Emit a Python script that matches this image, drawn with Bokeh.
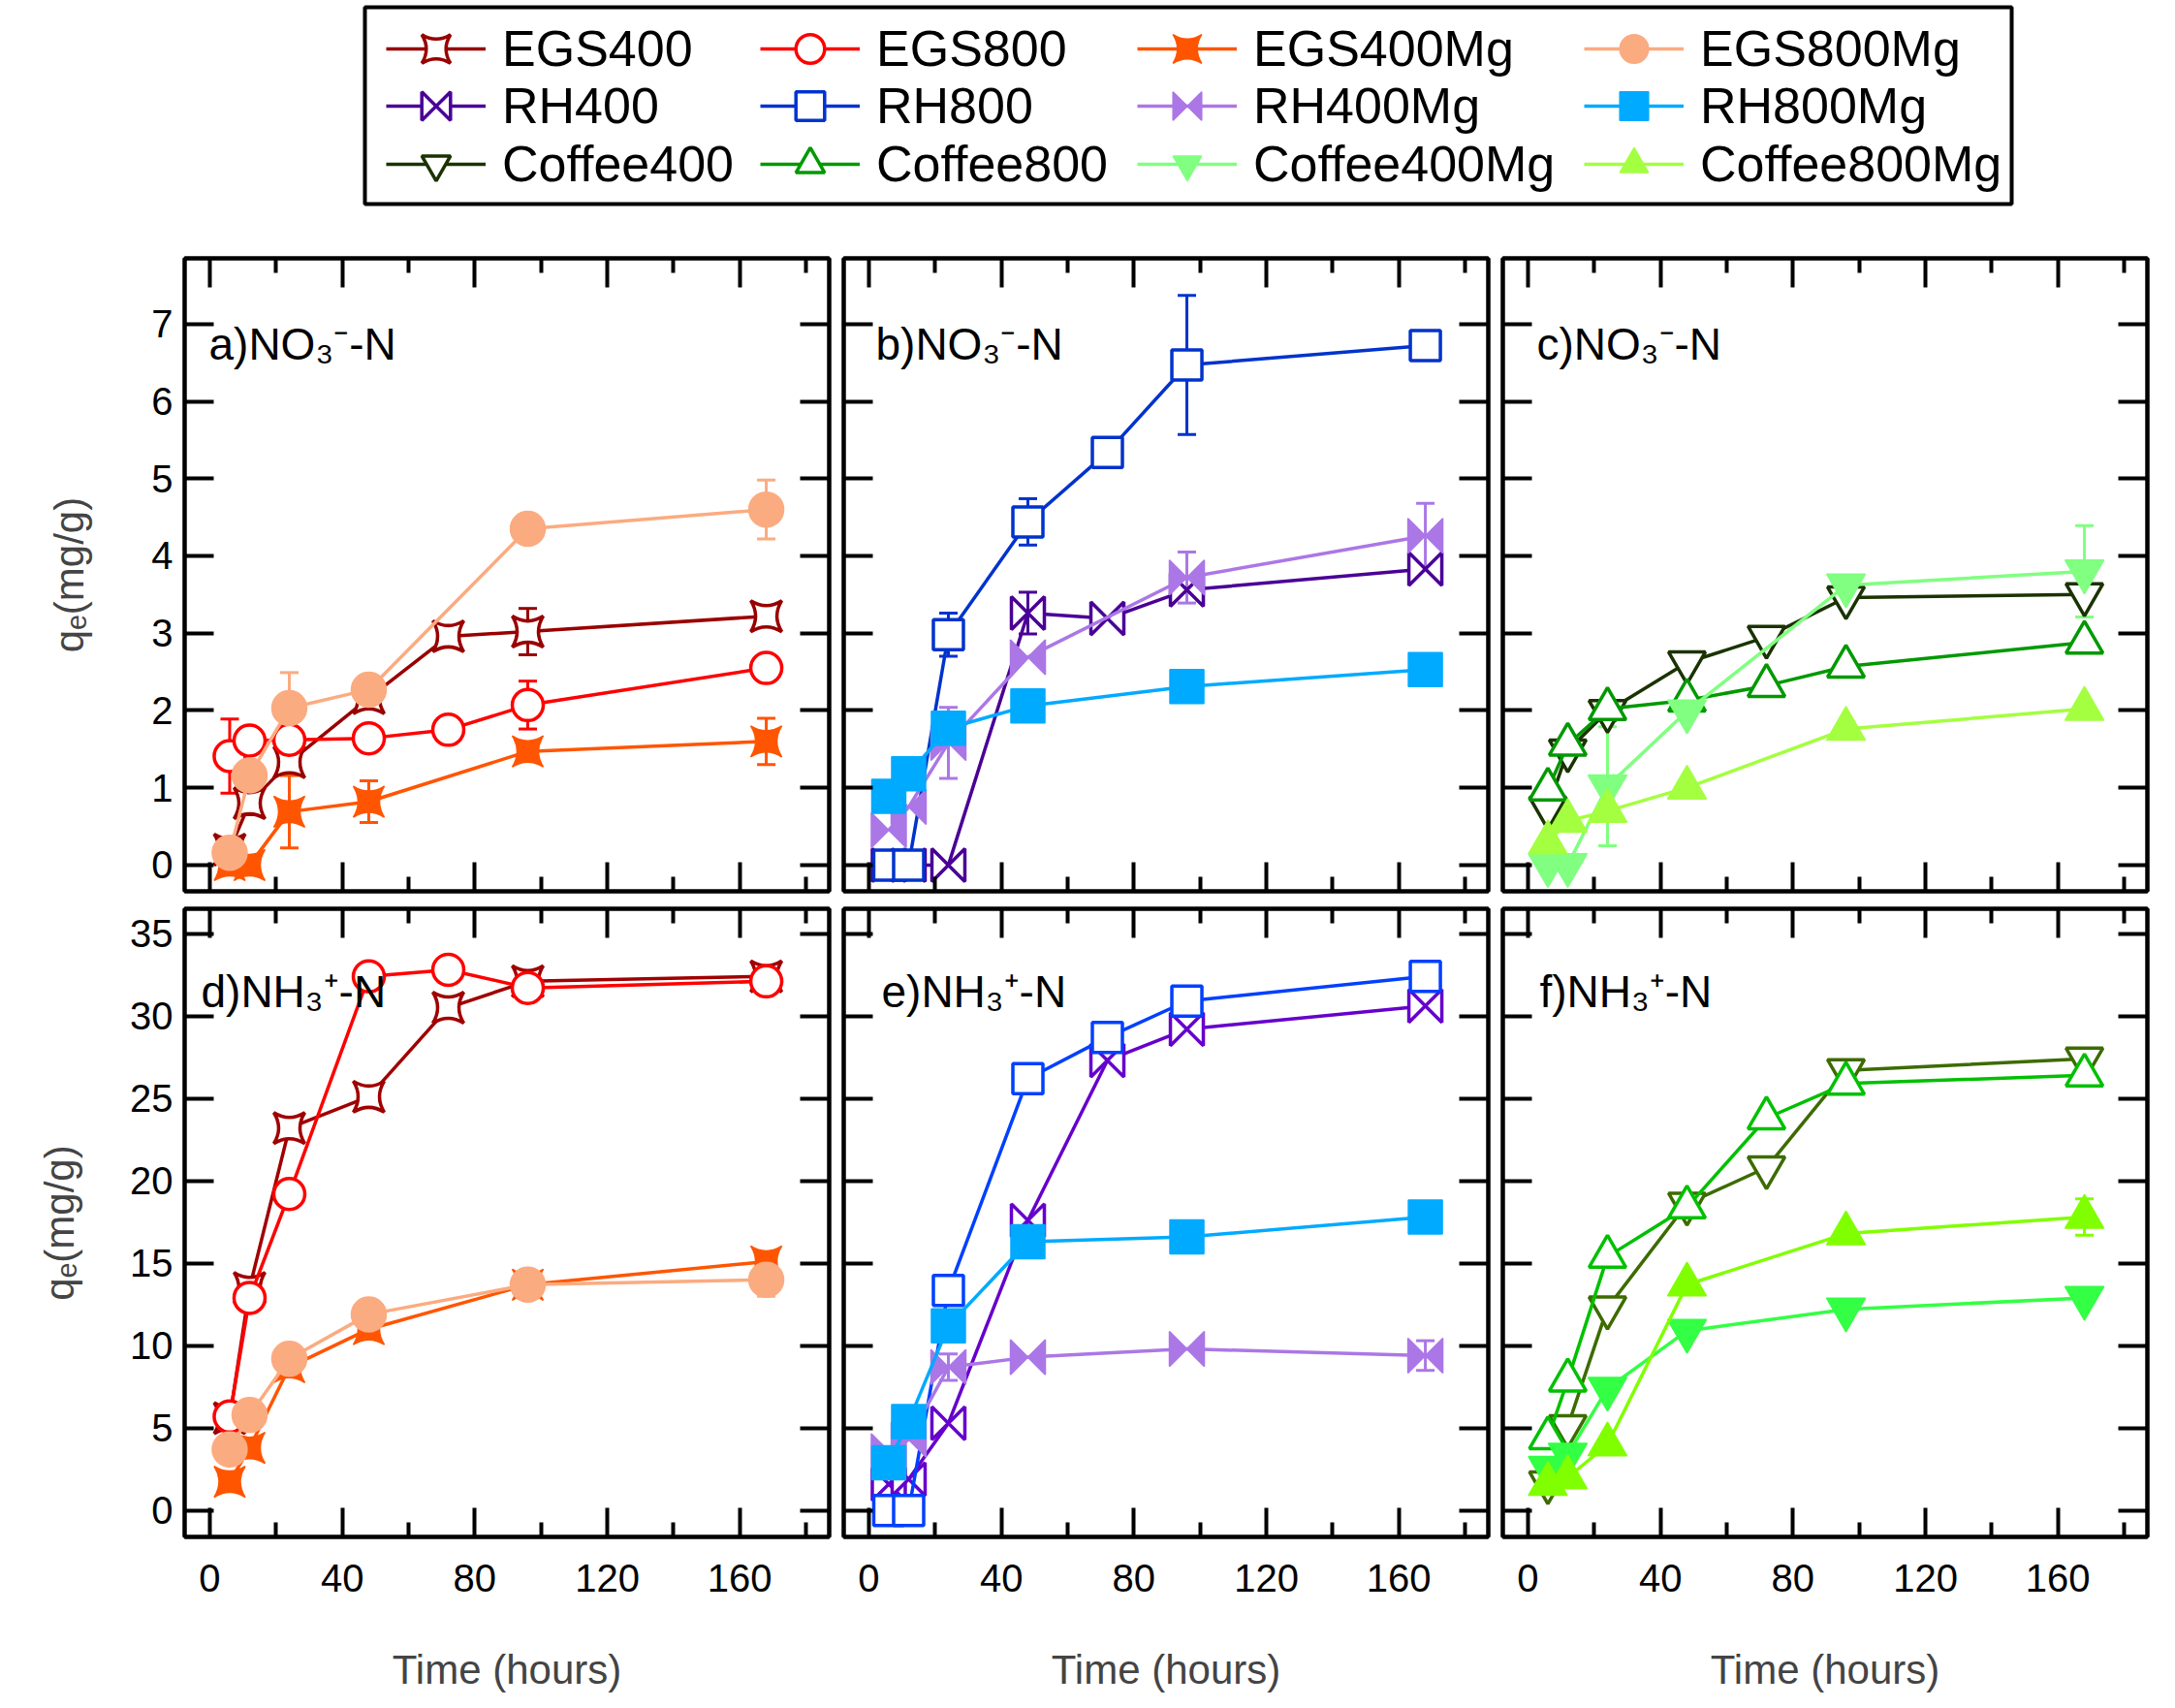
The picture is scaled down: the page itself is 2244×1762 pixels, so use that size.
from bokeh.plotting import figure
from bokeh.models import (ColumnDataSource, Legend, LegendItem, Label, LinearAxis,
                          FixedTicker, Whisker, TeeHead, Range1d, CustomJSTickFormatter, CustomJS)
from bokeh.layouts import column, row
from bokeh.embed import file_html
from bokeh.resources import INLINE

FONT = "Liberation Sans"
N = None

# ---------------- data ----------------
hours = [6, 12, 24, 48, 72, 96, 168]
x_ticks = [0, 40, 80, 120, 160]
x_minor_ticks = [20, 60, 100, 140, 180]
no3_ticks = [0, 1, 2, 3, 4, 5, 6, 7]
nh3_ticks = [0, 5, 10, 15, 20, 25, 30, 35]

series_names = ["EGS400", "EGS800", "EGS400Mg", "EGS800Mg",
                "RH400", "RH800", "RH400Mg", "RH800Mg",
                "Coffee400", "Coffee800", "Coffee400Mg", "Coffee800Mg"]

# NO3(-)-N  (top row)
no3_egs400 = [0.20, 0.80, 1.33, 2.16, 2.96, 3.02, 3.22]
no3_egs400_err = [0, 0.15, 0, 0, 0, 0.30, 0]
no3_egs800 = [1.41, 1.61, 1.62, 1.64, 1.75, 2.07, 2.55]
no3_egs800_err = [0.48, 0, 0, 0, 0, 0.31, 0]
no3_egs400mg = [0.00, 0.00, 0.69, 0.82, N, 1.47, 1.60]
no3_egs400mg_err = [0, 0, 0.47, 0.27, 0, 0, 0.30]
no3_egs800mg = [0.16, 1.16, 2.03, 2.27, N, 4.35, 4.60]
no3_egs800mg_err = [0, 0, 0.46, 0, 0, 0, 0.38]

no3_rh400 = [0.00, 0.00, 0.00, 3.26, 3.19, 3.56, 3.83]
no3_rh400_err = [0, 0, 0, 0.27, 0, 0, 0]
no3_rh800 = [0.00, 0.00, 2.98, 4.44, 5.34, 6.47, 6.72]
no3_rh800_err = [0, 0, 0.28, 0.30, 0, 0.90, 0]
no3_rh400mg = [0.45, 0.75, 1.58, 2.69, N, 3.72, 4.26]
no3_rh400mg_err = [0, 0, 0.46, 0, 0, 0.33, 0.42]
no3_rh800mg = [0.89, 1.18, 1.77, 2.06, N, 2.31, 2.53]
no3_rh800mg_err = [0, 0, 0, 0, 0, 0, 0]

no3_coffee400 = [0.74, 1.48, 1.99, 2.62, 2.95, 3.46, 3.50]
no3_coffee400_err = [0, 0, 0.12, 0, 0, 0, 0]
no3_coffee800 = [0.98, 1.56, 2.02, 2.13, 2.32, 2.57, 2.88]
no3_coffee800_err = [0, 0, 0, 0, 0, 0, 0]
no3_coffee400mg = [0.00, 0.00, 1.02, 1.99, N, 3.62, 3.80]
no3_coffee400mg_err = [0, 0, 0.77, 0, 0, 0, 0.59]
no3_coffee800mg = [0.29, 0.57, 0.70, 1.00, N, 1.76, 2.02]
no3_coffee800mg_err = [0, 0, 0, 0, 0, 0, 0]

# NH3(+)-N  (bottom row)
nh3_egs400 = [5.6, 13.5, 23.2, 25.1, 30.5, 32.1, 32.4]
nh3_egs400_err = [0, 0, 0, 0, 0, 0, 0]
nh3_egs800 = [5.7, 12.9, 19.2, 32.4, 32.8, 31.7, 32.1]
nh3_egs800_err = [0, 0, 0, 0, 0, 0, 0]
nh3_egs400mg = [1.75, 3.8, 8.7, 11.0, N, 13.7, 15.1]
nh3_egs400mg_err = [0, 0, 0, 0, 0, 0, 0]
nh3_egs800mg = [3.7, 5.8, 9.2, 11.9, N, 13.7, 14.0]
nh3_egs800mg_err = [0, 0, 0, 0, 0, 0, 1.0]

nh3_rh400 = [1.6, 1.9, 5.3, 17.6, 27.3, 29.2, 30.6]
nh3_rh400_err = [0, 0, 0, 0, 0, 0, 0]
nh3_rh800 = [0.0, 0.0, 13.35, 26.2, 28.7, 30.9, 32.4]
nh3_rh800_err = [0, 0, 0, 0, 0, 0, 0]
nh3_rh400mg = [3.6, 4.3, 8.7, 9.3, N, 9.8, 9.4]
nh3_rh400mg_err = [0, 0, 0.8, 0, 0, 0, 0.9]
nh3_rh800mg = [2.9, 5.4, 11.2, 16.3, N, 16.6, 17.8]
nh3_rh800mg_err = [0, 0, 0, 0, 0, 0, 0.8]

nh3_coffee400 = [1.7, 5.1, 12.3, 18.6, 20.8, 26.7, 27.4]
nh3_coffee400_err = [0, 0, 0, 0, 0, 0, 0]
nh3_coffee800 = [4.4, 7.9, 15.4, 18.4, 23.8, 25.9, 26.4]
nh3_coffee800_err = [0, 0, 0, 0, 0, 0, 0]
nh3_coffee400mg = [2.6, 3.4, 7.4, 10.9, N, 12.2, 12.9]
nh3_coffee400mg_err = [0, 0, 0, 0, 0, 0, 0]
nh3_coffee800mg = [1.6, 2.0, 4.0, 13.7, N, 16.8, 17.8]
nh3_coffee800mg_err = [0, 0, 0, 0, 0, 0, 1.1]

panel_titles = [["a)NO\u2083\u207b-N", "b)NO\u2083\u207b-N", "c)NO\u2083\u207b-N"],
                ["d)NH\u2083\u207a-N", "e)NH\u2083\u207a-N", "f)NH\u2083\u207a-N"]]
y_title = "q\u2091(mg/g)"
x_title = "Time (hours)"

no3 = {
    "EGS400": (no3_egs400, no3_egs400_err), "EGS800": (no3_egs800, no3_egs800_err),
    "EGS400Mg": (no3_egs400mg, no3_egs400mg_err), "EGS800Mg": (no3_egs800mg, no3_egs800mg_err),
    "RH400": (no3_rh400, no3_rh400_err), "RH800": (no3_rh800, no3_rh800_err),
    "RH400Mg": (no3_rh400mg, no3_rh400mg_err), "RH800Mg": (no3_rh800mg, no3_rh800mg_err),
    "Coffee400": (no3_coffee400, no3_coffee400_err), "Coffee800": (no3_coffee800, no3_coffee800_err),
    "Coffee400Mg": (no3_coffee400mg, no3_coffee400mg_err), "Coffee800Mg": (no3_coffee800mg, no3_coffee800mg_err),
}
nh3 = {
    "EGS400": (nh3_egs400, nh3_egs400_err), "EGS800": (nh3_egs800, nh3_egs800_err),
    "EGS400Mg": (nh3_egs400mg, nh3_egs400mg_err), "EGS800Mg": (nh3_egs800mg, nh3_egs800mg_err),
    "RH400": (nh3_rh400, nh3_rh400_err), "RH800": (nh3_rh800, nh3_rh800_err),
    "RH400Mg": (nh3_rh400mg, nh3_rh400mg_err), "RH800Mg": (nh3_rh800mg, nh3_rh800mg_err),
    "Coffee400": (nh3_coffee400, nh3_coffee400_err), "Coffee800": (nh3_coffee800, nh3_coffee800_err),
    "Coffee400Mg": (nh3_coffee400mg, nh3_coffee400mg_err), "Coffee800Mg": (nh3_coffee800mg, nh3_coffee800mg_err),
}

# ---------------- styles ----------------
top_colors = {"EGS400": "#990000", "EGS800": "#ff0000", "EGS400Mg": "#ff5500", "EGS800Mg": "#fbab80",
              "RH400": "#4a0096", "RH800": "#0033cc", "RH400Mg": "#ab77e6", "RH800Mg": "#00aaff",
              "Coffee400": "#1a3300", "Coffee800": "#009900", "Coffee400Mg": "#80ff80", "Coffee800Mg": "#a3ff40"}
bottom_colors = {"EGS400": "#a00000", "EGS800": "#ff0000", "EGS400Mg": "#ff5500", "EGS800Mg": "#fbab80",
                 "RH400": "#6600cc", "RH800": "#0040ff", "RH400Mg": "#ab77e6", "RH800Mg": "#00aaff",
                 "Coffee400": "#3d6b00", "Coffee800": "#00c000", "Coffee400Mg": "#33ff44", "Coffee800Mg": "#80ff00"}
marker_style = {"EGS400": ("square_pin", False, 32), "EGS800": ("circle", False, 32),
                "EGS400Mg": ("square_pin", True, 32), "EGS800Mg": ("circle", True, 36),
                "RH400": ("bowtie", False, 34), "RH800": ("square", False, 31),
                "RH400Mg": ("bowtie", True, 36), "RH800Mg": ("square", True, 35),
                "Coffee400": ("inverted_triangle", False, 38), "Coffee800": ("triangle", False, 38),
                "Coffee400Mg": ("inverted_triangle", True, 40), "Coffee800Mg": ("triangle", True, 40)}

BOWTIE_CODE = """
try {
  let d = null;
  for (const a of arguments) {
    if (a != null && typeof a === "object" && ("r" in a) && ("ctx" in a || "visuals" in a)) { d = a; break; }
  }
  if (d == null) {
    for (const a of arguments) {
      if (a != null && typeof a === "object" && ("r" in a)) { d = a; break; }
    }
  }
  if (d == null) return;
  const r = d.r, ctx = d.ctx, i = d.i, v = d.visuals;
  if (ctx == null) {
    const p = new Path2D();
    p.moveTo(-r, -r); p.lineTo(-r, r); p.lineTo(r, -r); p.lineTo(r, r); p.closePath();
    return p;
  }
  ctx.beginPath();
  ctx.moveTo(-r, -r); ctx.lineTo(-r, r); ctx.lineTo(r, -r); ctx.lineTo(r, r); ctx.closePath();
  if (v != null) {
    if (v.fill != null) v.fill.apply(ctx, i);
    if (v.line != null) v.line.apply(ctx, i);
  }
} catch (e) {}
"""
BOWTIE = CustomJS(code=BOWTIE_CODE)
DEBUG = []
BLANK = CustomJSTickFormatter(code="return ''")


def add_markers(p, src, name, color):
    mk, filled, size = marker_style[name]
    kw = dict(source=src, size=size, line_color=color,
              fill_color=color if filled else "white",
              line_width=1.5 if filled else 3.5)
    if mk == "bowtie":
        try:
            return p.scatter("x", "y", marker="@bowtie", defs={"@bowtie": BOWTIE}, **kw)
        except Exception as e:  # fallback
            DEBUG.append(repr(e)[:160])
            mk = "square_x"
    return p.scatter("x", "y", marker=mk, **kw)


def series_source(ys):
    xs = [h for h, v in zip(hours, ys) if v is not None]
    vs = [v for v in ys if v is not None]
    return ColumnDataSource(dict(x=xs, y=vs))


def add_series(p, name, ys, errs, color):
    src = series_source(ys)
    p.line("x", "y", source=src, line_color=color, line_width=3.5, line_join="round")
    ex = [h for h, v, e in zip(hours, ys, errs) if v is not None and e]
    if ex:
        lo = [v - e for v, e in zip(ys, errs) if v is not None and e]
        hi = [v + e for v, e in zip(ys, errs) if v is not None and e]
        esrc = ColumnDataSource(dict(x=ex, lo=lo, hi=hi))
        w = Whisker(source=esrc, base="x", lower="lo", upper="hi", dimension="height",
                    line_color=color, line_width=3, level="underlay",
                    upper_head=TeeHead(size=19, line_color=color, line_width=3),
                    lower_head=TeeHead(size=19, line_color=color, line_width=3))
        p.add_layout(w)
    add_markers(p, src, name, color)


def style_axis(ax, ticker, minor, labels):
    ax.ticker = ticker
    ax.axis_line_color = "black"
    ax.axis_line_width = 4
    ax.major_tick_in = 30
    ax.major_tick_out = 0
    ax.major_tick_line_width = 4
    ax.major_tick_line_color = "black"
    if minor:
        ax.minor_tick_in = 15
        ax.minor_tick_out = 0
        ax.minor_tick_line_width = 4
        ax.minor_tick_line_color = "black"
    else:
        ax.minor_tick_line_color = None
    if labels:
        ax.major_label_text_font = FONT
        ax.major_label_text_font_size = "40px"
        ax.major_label_text_color = "black"
    else:
        ax.formatter = BLANK
        ax.major_label_text_font_size = "1px"
        ax.major_label_standoff = 0


groups = [["EGS400", "EGS800", "EGS400Mg", "EGS800Mg"],
          ["RH400", "RH800", "RH400Mg", "RH800Mg"],
          ["Coffee400", "Coffee800", "Coffee400Mg", "Coffee800Mg"]]
title_x = [[25, 33, 35], [17, 39, 38]]

figs = []
for ri in range(2):
    row_figs = []
    for ci in range(3):
        left = 190 if ci == 0 else 8
        right = [7, 7, 13][ci]
        if ri == 0:
            top, bottom, fh, yr, yt, data, cols = 18, 9, 653, (-0.34, 7.85), no3_ticks, no3, top_colors
        else:
            top, bottom, fh, yr, yt, data, cols = 9, 176, 648, (-1.6, 36.5), nh3_ticks, nh3, bottom_colors
        p = figure(frame_width=665, frame_height=fh, x_range=Range1d(-7.6, 187), y_range=Range1d(*yr),
                   min_border_left=left, min_border_right=right, min_border_top=top,
                   min_border_bottom=bottom, toolbar_location=None, output_backend="svg")
        p.grid.visible = False
        p.outline_line_color = "black"
        p.outline_line_width = 4
        p.outline_line_alpha = 1
        bottom_ax = p.below[0]
        left_ax = p.left[0]
        xt = FixedTicker(ticks=x_ticks, minor_ticks=x_minor_ticks)
        ytk = FixedTicker(ticks=yt)
        style_axis(bottom_ax, xt, True, ri == 1)
        style_axis(left_ax, ytk, False, ci == 0)
        if ci == 0:
            left_ax.axis_label = y_title
            left_ax.axis_label_text_font = FONT
            left_ax.axis_label_text_font_size = "42px"
            left_ax.axis_label_text_font_style = "normal"
            left_ax.axis_label_standoff = 58 if ri == 0 else 46
            left_ax.major_label_standoff = 12
        if ri == 1:
            bottom_ax.axis_label = x_title
            bottom_ax.axis_label_text_font = FONT
            bottom_ax.axis_label_text_font_size = "42px"
            bottom_ax.axis_label_text_font_style = "normal"
            bottom_ax.axis_label_standoff = 54
            bottom_ax.major_label_standoff = 28
        top_ax = LinearAxis()
        right_ax = LinearAxis()
        style_axis(top_ax, xt, True, False)
        style_axis(right_ax, ytk, False, False)
        p.add_layout(top_ax, "above")
        p.add_layout(right_ax, "right")
        for name in groups[ci]:
            ys, errs = data[name]
            add_series(p, name, ys, errs, cols[name])
        p.add_layout(Label(x=title_x[ri][ci], y=565 if ri == 0 else 563, x_units="screen", y_units="screen",
                           text=panel_titles[ri][ci], text_font=FONT, text_font_size="46px",
                           text_color="black", text_baseline="alphabetic", text_align="left"))
        row_figs.append(p)
    figs.append(row_figs)

# ---------------- legend (separate strip above the panels) ----------------
leg = figure(frame_width=1699, frame_height=203, min_border_left=376, min_border_right=161,
             min_border_top=7, min_border_bottom=38, x_axis_type=None, y_axis_type=None,
             x_range=Range1d(1000, 1001), y_range=Range1d(1000, 1001),
             toolbar_location=None, output_backend="svg")
leg.grid.visible = False
leg.outline_line_color = "black"
leg.outline_line_width = 4
leg.outline_line_alpha = 1

legend_rows = [["EGS400", "EGS800", "EGS400Mg", "EGS800Mg"],
               ["RH400", "RH800", "RH400Mg", "RH800Mg"],
               ["Coffee400", "Coffee800", "Coffee400Mg", "Coffee800Mg"]]
legend_x = [22, 408, 797, 1258]
legend_y = [123, 64, 4]
for names, ly in zip(legend_rows, legend_y):
    for name, lx in zip(names, legend_x):
        c = top_colors[name]
        src = series_source(no3[name][0])   # real series, drawn outside the visible range
        lr = leg.line("x", "y", source=src, line_color=c, line_width=3.5)
        sr = add_markers(leg, src, name, c)
        lg = Legend(items=[LegendItem(label=name, renderers=[lr, sr])], location=(lx, ly),
                    orientation="vertical", glyph_width=103, glyph_height=74, label_standoff=17,
                    spacing=0, padding=0, margin=0, border_line_color=None,
                    background_fill_alpha=0, label_text_font=FONT, label_text_font_size="52px",
                    label_text_color="black")
        leg.add_layout(lg)

if DEBUG:
    try:
        from bokeh.models import Scatter
        info = str(Scatter.lookup("defs").property)
    except Exception as e:
        info = "nodefs " + repr(e)[:80]
    leg.add_layout(Label(x=-370, y=20, x_units="screen", y_units="screen",
                         text=(DEBUG[0] + "\n" + info)[:400], text_font_size="9px"))

layout = column(leg, row(*figs[0]), row(*figs[1]))
open("out.html", "w").write(file_html(layout, INLINE, title="Adsorption kinetics"))
